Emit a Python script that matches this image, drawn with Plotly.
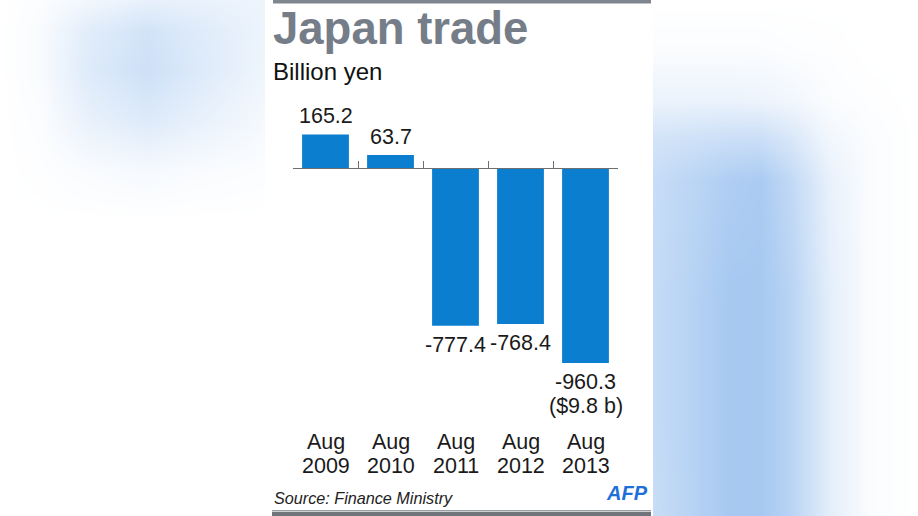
import plotly.graph_objects as go

# ---- data ----
months = ["Aug", "Aug", "Aug", "Aug", "Aug"]
years = ["2009", "2010", "2011", "2012", "2013"]
balance = [165.2, 63.7, -777.4, -768.4, -960.3]
notes = ["", "", "", "", "($9.8 b)"]

title = "Japan trade"
subtitle = "Billion yen"
source = "Source: Finance Ministry"

# background blur decoration (intensity grids)
left_x = [0, 40, 90, 147, 200, 265]
left_y = [0, 30, 70, 120, 170, 220, 516]
left_z = [
    [0.0, 0.04, 0.15, 0.26, 0.24, 0.2],
    [0.0, 0.07, 0.34, 0.50, 0.36, 0.2],
    [0.0, 0.07, 0.38, 0.56, 0.38, 0.18],
    [0.0, 0.04, 0.26, 0.38, 0.26, 0.11],
    [0.0, 0.02, 0.07, 0.11, 0.07, 0.04],
    [0.0, 0.0, 0.0, 0.0, 0.0, 0.0],
    [0.0, 0.0, 0.0, 0.0, 0.0, 0.0],
]
right_x = [653, 690, 730, 760, 790, 830, 870, 918]
right_y = [0, 50, 100, 140, 180, 300, 400, 516]
right_z = [
    [0.0, 0.0, 0.0, 0.0, 0.0, 0.0, 0.0, 0.0],
    [0.05, 0.05, 0.05, 0.05, 0.03, 0.02, 0.0, 0.0],
    [0.22, 0.22, 0.22, 0.2, 0.15, 0.05, 0.02, 0.0],
    [0.5, 0.55, 0.6, 0.6, 0.45, 0.15, 0.05, 0.0],
    [0.62, 0.75, 0.9, 0.95, 0.7, 0.25, 0.05, 0.0],
    [0.65, 0.8, 1.0, 1.0, 0.8, 0.3, 0.05, 0.0],
    [0.65, 0.8, 1.0, 1.0, 0.8, 0.3, 0.05, 0.0],
    [0.62, 0.8, 1.0, 1.0, 0.8, 0.3, 0.05, 0.0],
]

W, H = 918, 516
FONT = "Liberation Sans, Arial, Helvetica, sans-serif"
BLUE = "#0b7ecf"
GRAY = "#757d88"

def px_x(p):
    return p / W

def px_y(p):
    return 1 - p / H

fig = go.Figure()

blur_scale = [[0, "#ffffff"], [1, "#a6c8f1"]]
fig.add_trace(go.Heatmap(x=left_x, y=left_y, z=left_z, zmin=0, zmax=1,
                         colorscale=blur_scale, showscale=False, zsmooth="best",
                         hoverinfo="skip", xaxis="x2", yaxis="y2"))
fig.add_trace(go.Heatmap(x=right_x, y=right_y, z=right_z, zmin=0, zmax=1,
                         colorscale=blur_scale, showscale=False, zsmooth="best",
                         hoverinfo="skip", xaxis="x3", yaxis="y3"))

cats = [f"{m} {y}" for m, y in zip(months, years)]
fig.add_trace(go.Bar(x=cats, y=balance, marker_color=BLUE, width=0.72,
                     marker_line_width=0, hoverinfo="skip"))

# axis geometry: zero at y=168px, 0.203 px per unit
y_lo, y_hi = -1000, 300
scale = 0.203
top_px = 168 - y_hi * scale
bot_px = 168 - y_lo * scale

annotations = []
for c, v, n in zip(cats, balance, notes):
    shift = 18 if v >= 0 else -19.5
    annotations.append(dict(x=c, y=v, xref="x", yref="y", text=f"{v:.1f}",
                            showarrow=False, yanchor="middle", yshift=shift,
                            font=dict(family=FONT, size=21.5, color="#1a1a1a")))
    if n:
        annotations.append(dict(x=c, y=v, xref="x", yref="y", text=n,
                                showarrow=False, yanchor="middle", yshift=shift - 23.5,
                                font=dict(family=FONT, size=21.5, color="#1a1a1a")))
for c, m, yr in zip(cats, months, years):
    annotations.append(dict(x=c, y=px_y(441.8), xref="x", yref="paper", text=m,
                            showarrow=False, yanchor="middle",
                            font=dict(family=FONT, size=21.5, color="#1a1a1a")))
    annotations.append(dict(x=c, y=px_y(465.5), xref="x", yref="paper", text=yr,
                            showarrow=False, yanchor="middle",
                            font=dict(family=FONT, size=21.5, color="#1a1a1a")))

annotations += [
    dict(x=px_x(271), y=px_y(29), xref="paper", yref="paper", text=f"<b>{title}</b>",
         showarrow=False, xanchor="left", yanchor="middle",
         font=dict(family=FONT, size=45.5, color=GRAY)),
    dict(x=px_x(271), y=px_y(71.7), xref="paper", yref="paper", text=subtitle,
         showarrow=False, xanchor="left", yanchor="middle",
         font=dict(family=FONT, size=24, color="#111111")),
    dict(x=px_x(272), y=px_y(497.5), xref="paper", yref="paper", text=f"<i>{source}</i>",
         showarrow=False, xanchor="left", yanchor="middle",
         font=dict(family=FONT, size=16.2, color="#222222")),
    dict(x=px_x(627), y=px_y(493), xref="paper", yref="paper", text="<b><i>AFP</i></b>",
         showarrow=False, xanchor="center", yanchor="middle",
         font=dict(family=FONT, size=20, color="#1f6fd8")),
]

shapes = [
    dict(type="rect", xref="paper", yref="paper", x0=px_x(273), x1=px_x(651),
         y0=px_y(0), y1=px_y(3.5), fillcolor="#80868f", line_width=0, layer="above"),
    dict(type="rect", xref="paper", yref="paper", x0=px_x(272), x1=px_x(651),
         y0=px_y(510), y1=px_y(511.5), fillcolor="#9a9ea5", line_width=0, layer="above"),
    dict(type="rect", xref="paper", yref="paper", x0=px_x(272), x1=px_x(651),
         y0=px_y(512), y1=px_y(516), fillcolor="#6f737a", line_width=0, layer="above"),
]

fig.update_layout(
    width=W, height=H,
    margin=dict(l=0, r=0, t=0, b=0),
    paper_bgcolor="white", plot_bgcolor="rgba(0,0,0,0)",
    showlegend=False,
    xaxis=dict(domain=[px_x(293), px_x(618)], range=[-0.5, 4.5], type="category",
               anchor="free", position=px_y(168), showline=True, linecolor="#6e6e6e",
               linewidth=1.3, ticks="inside", tickson="boundaries", ticklen=7,
               tickcolor="#6e6e6e", tickwidth=1.3, showticklabels=False,
               showgrid=False, zeroline=False, fixedrange=True),
    yaxis=dict(domain=[px_y(bot_px), px_y(top_px)], range=[y_lo, y_hi],
               visible=False, showgrid=False, zeroline=False, fixedrange=True),
    xaxis2=dict(domain=[0, px_x(265)], range=[0, 265], visible=False, anchor="y2"),
    yaxis2=dict(domain=[0, 1], range=[516, 0], visible=False, anchor="x2"),
    xaxis3=dict(domain=[px_x(653), 1], range=[653, 918], visible=False, anchor="y3"),
    yaxis3=dict(domain=[0, 1], range=[516, 0], visible=False, anchor="x3"),
    annotations=annotations,
    shapes=shapes,
)

fig.write_html("out.html", config={"displayModeBar": False},
               post_script="document.body.style.margin='0';document.body.style.overflow='hidden';")
